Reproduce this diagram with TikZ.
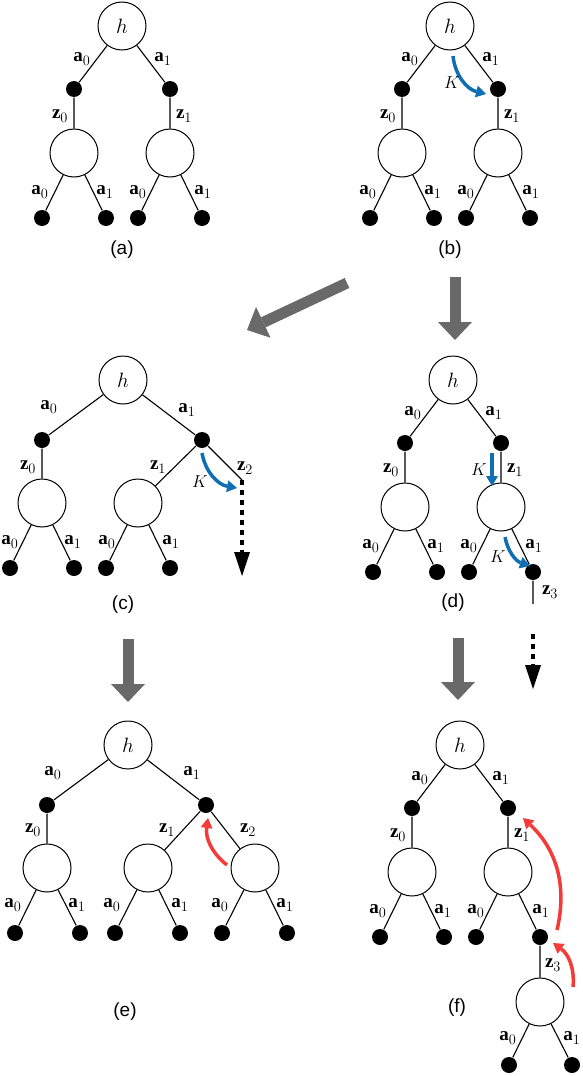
\documentclass[tikz,border=0pt]{standalone}
\usepackage{fontspec}
\setmainfont{Liberation Serif}
\newfontfamily\capfont{Liberation Sans}
\usepackage{tikz}
\usetikzlibrary{arrows.meta}
\definecolor{arrgray}{RGB}{105,105,105}
\definecolor{kblue}{RGB}{16,110,178}
\definecolor{kred}{RGB}{245,58,58}
\tikzset{
  chance/.style={circle,draw,line width=1pt,minimum size=48pt,inner sep=0pt},
  root/.style={chance,font=\fontsize{20.74}{20.74}\selectfont},
  dec/.style={circle,fill=black,minimum size=16pt,inner sep=0pt},
  lab/.style={inner sep=0pt,font=\fontsize{19}{19}\selectfont},
  capt/.style={inner sep=0pt,font=\capfont\fontsize{19}{19}\selectfont},
  bigarrow/.style={arrgray,line width=11pt,-{Triangle[width=34pt,length=18pt,line width=0pt]}},
  dotarrow/.style={line width=4pt,dash pattern=on 5pt off 5pt,-{Triangle[width=16pt,length=24pt,line width=0pt]}},
  karrow/.style={kblue,line width=3.5pt,-{Triangle[width=12pt,length=10pt,line width=0pt]}},
  backarrow/.style={kred,line width=3.5pt,-{Triangle[width=12pt,length=10pt,line width=0pt]}}
}

\begin{document}
\begin{tikzpicture}[x=1pt,y=-1pt,line width=1.1pt]
\useasboundingbox (0,0) rectangle (582,1076);
% (a) plain tree
\scope[shift={(122,26)}]
\node[root] (ah) at (0,0) {$h$};
\node[dec] (ad0) at (-48,63) {};
\node[dec] (ad1) at (48,63) {};
\node[chance] (ac0) at (-48,127) {};
\node[chance] (ac1) at (48,127) {};
\node[dec] (al0) at (-80,192) {};
\node[dec] (al1) at (-16,192) {};
\node[dec] (al2) at (16,192) {};
\node[dec] (al3) at (80,192) {};
\draw (ah) -- (ad0) (-40,33) node[lab] (aa0) {$\mathbf{a}_0$}
      (ah) -- (ad1) (41,33) node[lab] (aa1) {$\mathbf{a}_1$}
      (ad0) -- (ac0) (-62,90) node[lab] (az0) {$\mathbf{z}_0$}
      (ad1) -- (ac1) (62,90) node[lab] (az1) {$\mathbf{z}_1$}
      (ac0) -- (al0) (-82,166) node[lab] (aa00) {$\mathbf{a}_0$}
      (ac0) -- (al1) (-17,166) node[lab] (aa01) {$\mathbf{a}_1$}
      (ac1) -- (al2) (16,166) node[lab] (aa10) {$\mathbf{a}_0$}
      (ac1) -- (al3) (81,166) node[lab] (aa11) {$\mathbf{a}_1$};
\node[capt] (acap) at (0,224) {(a)};
\endscope
% (b) sample a1
\scope[shift={(450,26)}]
\node[root] (bh) at (0,0) {$h$};
\node[dec] (bd0) at (-48,63) {};
\node[dec] (bd1) at (48,63) {};
\node[chance] (bc0) at (-48,127) {};
\node[chance] (bc1) at (48,127) {};
\node[dec] (bl0) at (-80,192) {};
\node[dec] (bl1) at (-16,192) {};
\node[dec] (bl2) at (16,192) {};
\node[dec] (bl3) at (80,192) {};
\draw (bh) -- (bd0) (-40,33) node[lab] (ba0) {$\mathbf{a}_0$}
      (bh) -- (bd1) (41,33) node[lab] (ba1) {$\mathbf{a}_1$}
      (bd0) -- (bc0) (-62,90) node[lab] (bz0) {$\mathbf{z}_0$}
      (bd1) -- (bc1) (62,90) node[lab] (bz1) {$\mathbf{z}_1$}
      (bc0) -- (bl0) (-82,166) node[lab] (ba00) {$\mathbf{a}_0$}
      (bc0) -- (bl1) (-17,166) node[lab] (ba01) {$\mathbf{a}_1$}
      (bc1) -- (bl2) (16,166) node[lab] (ba10) {$\mathbf{a}_0$}
      (bc1) -- (bl3) (81,166) node[lab] (ba11) {$\mathbf{a}_1$};
\coordinate (bk0) at (3,30);
\coordinate (bk1) at (36,68);
\draw[karrow] (bk0) to[bend right=35] (bk1);
\node[lab] (bK) at (2,57) {$K$};
\node[capt] (bcap) at (0,224) {(b)};
\endscope
% big gray arrows
\coordinate (g1a) at (347,283);
\coordinate (g1b) at (247,330);
\coordinate (g2a) at (455,277);
\coordinate (g2b) at (455,340);
\coordinate (g3a) at (128,639);
\coordinate (g3b) at (128,702);
\coordinate (g4a) at (458,638);
\coordinate (g4b) at (458,700);
\draw[bigarrow] (g1a) -- (g1b);
\draw[bigarrow] (g2a) -- (g2b);
\draw[bigarrow] (g3a) -- (g3b);
\draw[bigarrow] (g4a) -- (g4b);
% (c) new observation z2
\scope[shift={(123,380)}]
\node[root] (ch) at (0,0) {$h$};
\node[dec] (cd0) at (-81,60) {};
\node[dec] (cd1) at (79,60) {};
\node[chance] (cc0) at (-81,123) {};
\node[chance] (cc1) at (15,123) {};
\node[dec] (cl0) at (-113,188) {};
\node[dec] (cl1) at (-49,188) {};
\node[dec] (cl2) at (-17,188) {};
\node[dec] (cl3) at (47,188) {};
\coordinate (cz2) at (119,100);
\coordinate (cz2e) at (119,196);
\draw (ch) -- (cd0) (-74,27) node[lab] (ca0) {$\mathbf{a}_0$}
      (ch) -- (cd1) (64,30) node[lab] (ca1) {$\mathbf{a}_1$}
      (cd0) -- (cc0) (-95,87) node[lab] (cz0l) {$\mathbf{z}_0$}
      (cd1) -- (cc1) (35,87) node[lab] (cz1l) {$\mathbf{z}_1$}
      (cd1) -- (cz2) (122,88) node[lab] (cz2l) {$\mathbf{z}_2$}
      (cc0) -- (cl0) (-113,162) node[lab] (ca00) {$\mathbf{a}_0$}
      (cc0) -- (cl1) (-50,162) node[lab] (ca01) {$\mathbf{a}_1$}
      (cc1) -- (cl2) (-16,162) node[lab] (ca10) {$\mathbf{a}_0$}
      (cc1) -- (cl3) (48,162) node[lab] (ca11) {$\mathbf{a}_1$};
\draw[dotarrow] (cz2) -- (cz2e);
\coordinate (ck0) at (79,73);
\coordinate (ck1) at (114,108);
\draw[karrow] (ck0) to[bend right=35] (ck1);
\node[lab] (cK) at (77,102) {$K$};
\node[capt] (ccap) at (0,225) {(c)};
\endscope
% (d) going deeper along z1
\scope[shift={(453,380)}]
\node[root] (dh) at (0,0) {$h$};
\node[dec] (dd0) at (-48,63) {};
\node[dec] (dd1) at (48,63) {};
\node[chance] (dc0) at (-48,127) {};
\node[chance] (dc1) at (48,127) {};
\node[dec] (dl0) at (-80,192) {};
\node[dec] (dl1) at (-16,192) {};
\node[dec] (dl2) at (16,192) {};
\node[dec] (dl3) at (80,192) {};
\coordinate (dz3) at (80,224);
\draw (dh) -- (dd0) (-40,33) node[lab] (da0) {$\mathbf{a}_0$}
      (dh) -- (dd1) (41,33) node[lab] (da1) {$\mathbf{a}_1$}
      (dd0) -- (dc0) (-62,90) node[lab] (dz0l) {$\mathbf{z}_0$}
      (dd1) -- (dc1) (62,90) node[lab] (dz1l) {$\mathbf{z}_1$}
      (dc0) -- (dl0) (-82,166) node[lab] (da00) {$\mathbf{a}_0$}
      (dc0) -- (dl1) (-17,166) node[lab] (da01) {$\mathbf{a}_1$}
      (dc1) -- (dl2) (16,166) node[lab] (da10) {$\mathbf{a}_0$}
      (dc1) -- (dl3) (81,166) node[lab] (da11) {$\mathbf{a}_1$}
      (dl3) -- (dz3) (97,212) node[lab] (dz3l) {$\mathbf{z}_3$};
\coordinate (dk0) at (39,73);
\coordinate (dk1) at (39,106);
\coordinate (dk2) at (52,157);
\coordinate (dk3) at (77,186);
\draw[karrow] (dk0) -- (dk1);
\draw[karrow] (dk2) to[bend right=30] (dk3);
\node[lab] (dK1) at (26,90) {$K$};
\node[lab] (dK2) at (45,177) {$K$};
\coordinate (dv0) at (80,254);
\coordinate (dv1) at (80,309);
\draw[dotarrow] (dv0) -- (dv1);
\node[capt] (dcap) at (0,223) {(d)};
\endscope
% (e) back up from z2
\scope[shift={(128,745)}]
\node[root] (eh) at (0,0) {$h$};
\node[dec] (ed0) at (-81,60) {};
\node[dec] (ed1) at (78,60) {};
\node[chance] (ec0) at (-81,123) {};
\node[chance] (ec1) at (20,123) {};
\node[chance] (ec2) at (127,123) {};
\node[dec] (el0) at (-113,188) {};
\node[dec] (el1) at (-48,188) {};
\node[dec] (el2) at (-13,188) {};
\node[dec] (el3) at (52,188) {};
\node[dec] (el4) at (94,188) {};
\node[dec] (el5) at (159,188) {};
\draw (eh) -- (ed0) (-75,28) node[lab] (ea0) {$\mathbf{a}_0$}
      (eh) -- (ed1) (64,28) node[lab] (ea1) {$\mathbf{a}_1$}
      (ed0) -- (ec0) (-95,85) node[lab] (ez0) {$\mathbf{z}_0$}
      (ed1) -- (ec1) (39,85) node[lab] (ez1) {$\mathbf{z}_1$}
      (ed1) -- (ec2) (120,85) node[lab] (ez2) {$\mathbf{z}_2$}
      (ec0) -- (el0) (-115,160) node[lab] (ea00) {$\mathbf{a}_0$}
      (ec0) -- (el1) (-51,160) node[lab] (ea01) {$\mathbf{a}_1$}
      (ec1) -- (el2) (-16,160) node[lab] (ea10) {$\mathbf{a}_0$}
      (ec1) -- (el3) (52,160) node[lab] (ea11) {$\mathbf{a}_1$}
      (ec2) -- (el4) (92,160) node[lab] (ea20) {$\mathbf{a}_0$}
      (ec2) -- (el5) (157,160) node[lab] (ea21) {$\mathbf{a}_1$};
\coordinate (er0) at (99,120);
\coordinate (er1) at (80,73);
\draw[backarrow] (er0) to[bend left=30] (er1);
\node[capt] (ecap) at (-3,267) {(e)};
\endscope
% (f) back up from z3
\scope[shift={(460,745)}]
\node[root] (fh) at (0,0) {$h$};
\node[dec] (fd0) at (-48,63) {};
\node[dec] (fd1) at (48,63) {};
\node[chance] (fc0) at (-48,127) {};
\node[chance] (fc1) at (48,127) {};
\node[dec] (fl0) at (-80,192) {};
\node[dec] (fl1) at (-16,192) {};
\node[dec] (fl2) at (16,192) {};
\node[dec] (fl3) at (80,192) {};
\node[chance] (fc2) at (80,257) {};
\node[dec] (fl4) at (49,320) {};
\node[dec] (fl5) at (112,320) {};
\draw (fh) -- (fd0) (-40,33) node[lab] (fa0) {$\mathbf{a}_0$}
      (fh) -- (fd1) (41,33) node[lab] (fa1) {$\mathbf{a}_1$}
      (fd0) -- (fc0) (-62,90) node[lab] (fz0) {$\mathbf{z}_0$}
      (fd1) -- (fc1) (62,90) node[lab] (fz1) {$\mathbf{z}_1$}
      (fc0) -- (fl0) (-82,166) node[lab] (fa00) {$\mathbf{a}_0$}
      (fc0) -- (fl1) (-17,166) node[lab] (fa01) {$\mathbf{a}_1$}
      (fc1) -- (fl2) (16,166) node[lab] (fa10) {$\mathbf{a}_0$}
      (fc1) -- (fl3) (81,166) node[lab] (fa11) {$\mathbf{a}_1$}
      (fl3) -- (fc2) (93,220) node[lab] (fz3) {$\mathbf{z}_3$}
      (fc2) -- (fl4) (48,293) node[lab] (fa20) {$\mathbf{a}_0$}
      (fc2) -- (fl5) (112,293) node[lab] (fa21) {$\mathbf{a}_1$};
\coordinate (fr0) at (97,185);
\coordinate (fr1) at (63,73);
\coordinate (fr2) at (113,242);
\coordinate (fr3) at (93,198);
\draw[backarrow] (fr0) to[bend right=30] (fr1);
\draw[backarrow] (fr2) to[bend right=30] (fr3);
\node[capt] (fcap) at (-3,263) {(f)};
\endscope
\end{tikzpicture}
\end{document}
